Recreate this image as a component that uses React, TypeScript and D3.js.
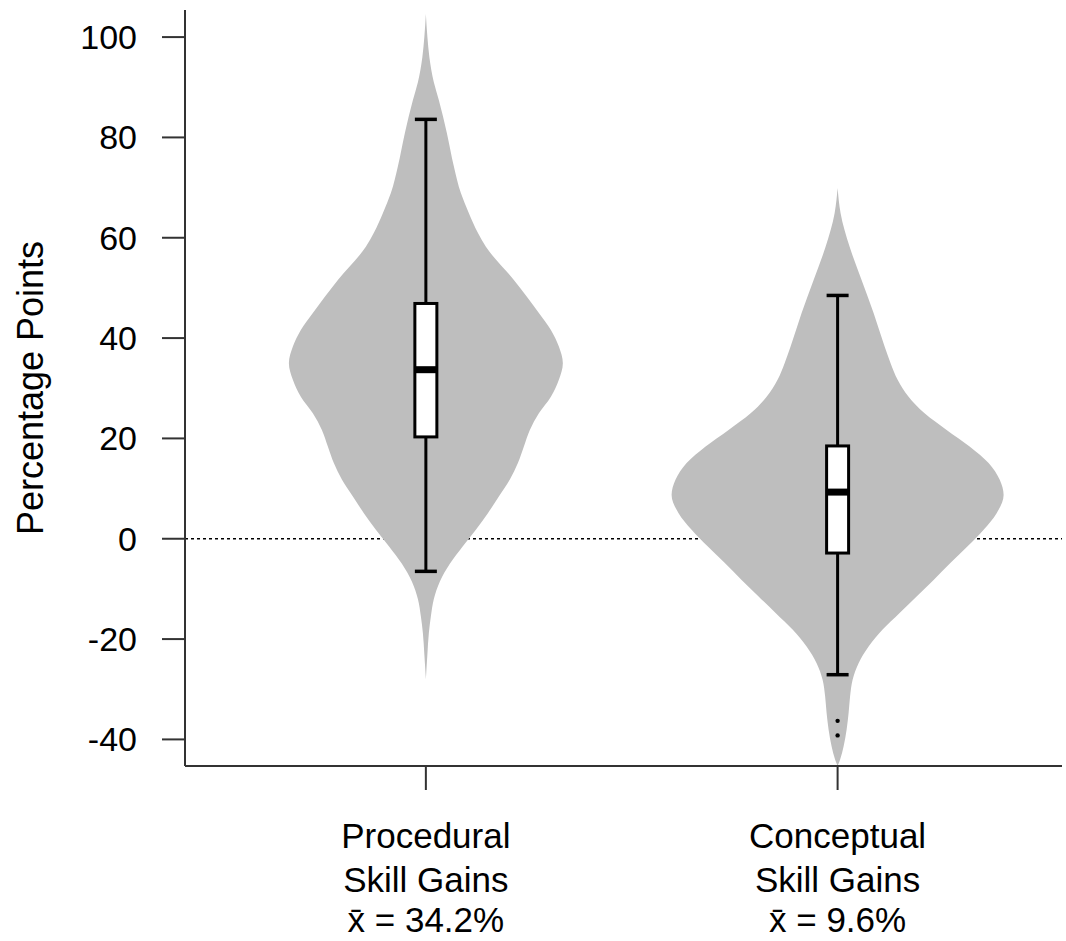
import React from 'react';
import * as d3 from 'd3';

// groups and labels
const categoryTitles = ['Procedural', 'Conceptual'];
const categorySubtitles = ['Skill Gains', 'Skill Gains'];
const categoryMeans = ['34.2%', '9.6%'];
const yTicks = [-40, -20, 0, 20, 40, 60, 80, 100];
const yLabel = 'Percentage Points';

// kernel density outlines, [value, density x 1000]
const proceduralDensity: [number, number][] = [
  [104.6, 0], [100, 0.23], [96, 0.53], [91, 1.2], [87.4, 1.96], [80.9, 3.16],
  [74.2, 4.22], [68.9, 5.27], [64.9, 6.48], [61, 7.83], [58.2, 9.04], [51.6, 13.25],
  [45, 17.02], [41.6, 18.83], [38.3, 20.03], [35, 20.63], [31.7, 20.03], [28.3, 18.83],
  [25, 17.02], [21.7, 15.66], [18.4, 14.76], [15.1, 13.86], [11.8, 12.65], [8.4, 10.99],
  [5.1, 9.34], [1.8, 7.53], [-1.5, 5.57], [-5, 3.61], [-8.5, 2.11], [-12, 1.2],
  [-15.5, 0.75], [-18.8, 0.45], [-23, 0.23], [-28, 0],
];
const conceptualDensity: [number, number][] = [
  [69.9, 0], [64.9, 0.45], [58.2, 1.81], [51.6, 3.61], [45, 5.42], [38.3, 7.08],
  [35, 7.98], [31.7, 9.04], [28.3, 10.69], [25, 13.1], [21.7, 16.42], [18.4, 19.88],
  [15.1, 22.74], [11.8, 24.4], [8.7, 25], [5.1, 23.95], [1.8, 21.99], [-1.5, 19.58],
  [-4.8, 17.02], [-8.2, 14.46], [-11.5, 11.9], [-14.8, 9.34], [-18.1, 6.78],
  [-21.5, 4.67], [-24.8, 3.16], [-28.1, 2.26], [-31.4, 1.88], [-34.7, 1.66],
  [-38, 1.36], [-41.4, 0.9], [-44, 0.38], [-45.3, 0],
];

// box plot stats per group
const whiskerLow = [-6.5, -27.1];
const quartile1 = [20.3, -2.85];
const medians = [33.7, 9.3];
const quartile3 = [46.9, 18.5];
const whiskerHigh = [83.6, 48.5];
const outliers = [[], [-36.3, -39.2]];

const densities = [proceduralDensity, conceptualDensity];

const W = 1066;
const H = 941;
const plot = { left: 185, right: 1062, top: 10, bottom: 766 };
const font = 'Liberation Sans, Arial, sans-serif';

const App = () => {
  const x = d3.scaleLinear().domain([0.415, 2.545]).range([plot.left, plot.right]);
  const y = d3.scaleLinear().domain([-45.3, 105.4]).range([plot.bottom, plot.top]);
  const halfWidth = d3.scaleLinear().domain([0, 25]).range([0, 166]);
  const boxHalf = 11;

  const violinPath = (i: number) => {
    const cx = x(i + 1);
    return d3
      .area<[number, number]>()
      .y((d) => y(d[0]))
      .x0((d) => cx - halfWidth(d[1]))
      .x1((d) => cx + halfWidth(d[1]))
      .curve(d3.curveMonotoneY)(densities[i]) as string;
  };

  return (
    <div style={{ position: 'absolute', left: 0, top: 0 }}>
      <svg width={W} height={H} style={{ display: 'block', background: '#fff' }}>
        {/* zero reference line */}
        <line
          x1={plot.left}
          x2={plot.right}
          y1={y(0)}
          y2={y(0)}
          stroke="#000"
          strokeWidth={1.5}
          strokeDasharray="3 3"
        />

        {categoryTitles.map((c, i) => {
          const cx = x(i + 1);
          return (
            <g key={c}>
              <path d={violinPath(i)} fill="#bebebe" />
              {/* whiskers */}
              <line x1={cx} x2={cx} y1={y(whiskerHigh[i])} y2={y(quartile3[i])} stroke="#000" strokeWidth={3} />
              <line x1={cx} x2={cx} y1={y(quartile1[i])} y2={y(whiskerLow[i])} stroke="#000" strokeWidth={3} />
              <line x1={cx - boxHalf} x2={cx + boxHalf} y1={y(whiskerHigh[i])} y2={y(whiskerHigh[i])} stroke="#000" strokeWidth={3.5} />
              <line x1={cx - boxHalf} x2={cx + boxHalf} y1={y(whiskerLow[i])} y2={y(whiskerLow[i])} stroke="#000" strokeWidth={3.5} />
              {/* box */}
              <rect
                x={cx - boxHalf}
                y={y(quartile3[i])}
                width={boxHalf * 2}
                height={y(quartile1[i]) - y(quartile3[i])}
                fill="#fff"
                stroke="#000"
                strokeWidth={3}
              />
              <line x1={cx - boxHalf} x2={cx + boxHalf} y1={y(medians[i])} y2={y(medians[i])} stroke="#000" strokeWidth={7} />
              {outliers[i].map((o, j) => (
                <circle key={j} cx={cx} cy={y(o)} r={2.2} fill="#000" />
              ))}
            </g>
          );
        })}

        {/* axes */}
        <line x1={plot.left} x2={plot.left} y1={plot.top} y2={plot.bottom} stroke="#333" strokeWidth={2} />
        <line x1={plot.left} x2={plot.right} y1={plot.bottom} y2={plot.bottom} stroke="#333" strokeWidth={2} />
        {yTicks.map((t) => (
          <g key={t}>
            <line x1={plot.left - 23} x2={plot.left} y1={y(t)} y2={y(t)} stroke="#333" strokeWidth={2} />
            <text x={137} y={y(t) + 12} textAnchor="end" fontFamily={font} fontSize={34} fill="#000">
              {t}
            </text>
          </g>
        ))}
        {categoryTitles.map((c, i) => {
          const cx = x(i + 1);
          return (
            <g key={c}>
              <line x1={cx} x2={cx} y1={plot.bottom} y2={plot.bottom + 24} stroke="#333" strokeWidth={2} />
              <text x={cx} y={848} textAnchor="middle" fontFamily={font} fontSize={35}>
                {c}
              </text>
              <text x={cx} y={892} textAnchor="middle" fontFamily={font} fontSize={35}>
                {categorySubtitles[i]}
              </text>
              <text x={cx} y={932} textAnchor="middle" fontFamily={font} fontSize={35}>
                {'x\u0304 = ' + categoryMeans[i]}
              </text>
            </g>
          );
        })}

        <text
          transform={`translate(43, ${(y(-45.3) + y(105.4)) / 2}) rotate(-90)`}
          textAnchor="middle"
          fontFamily={font}
          fontSize={36}
        >
          {yLabel}
        </text>
      </svg>
    </div>
  );
};

export default App;
